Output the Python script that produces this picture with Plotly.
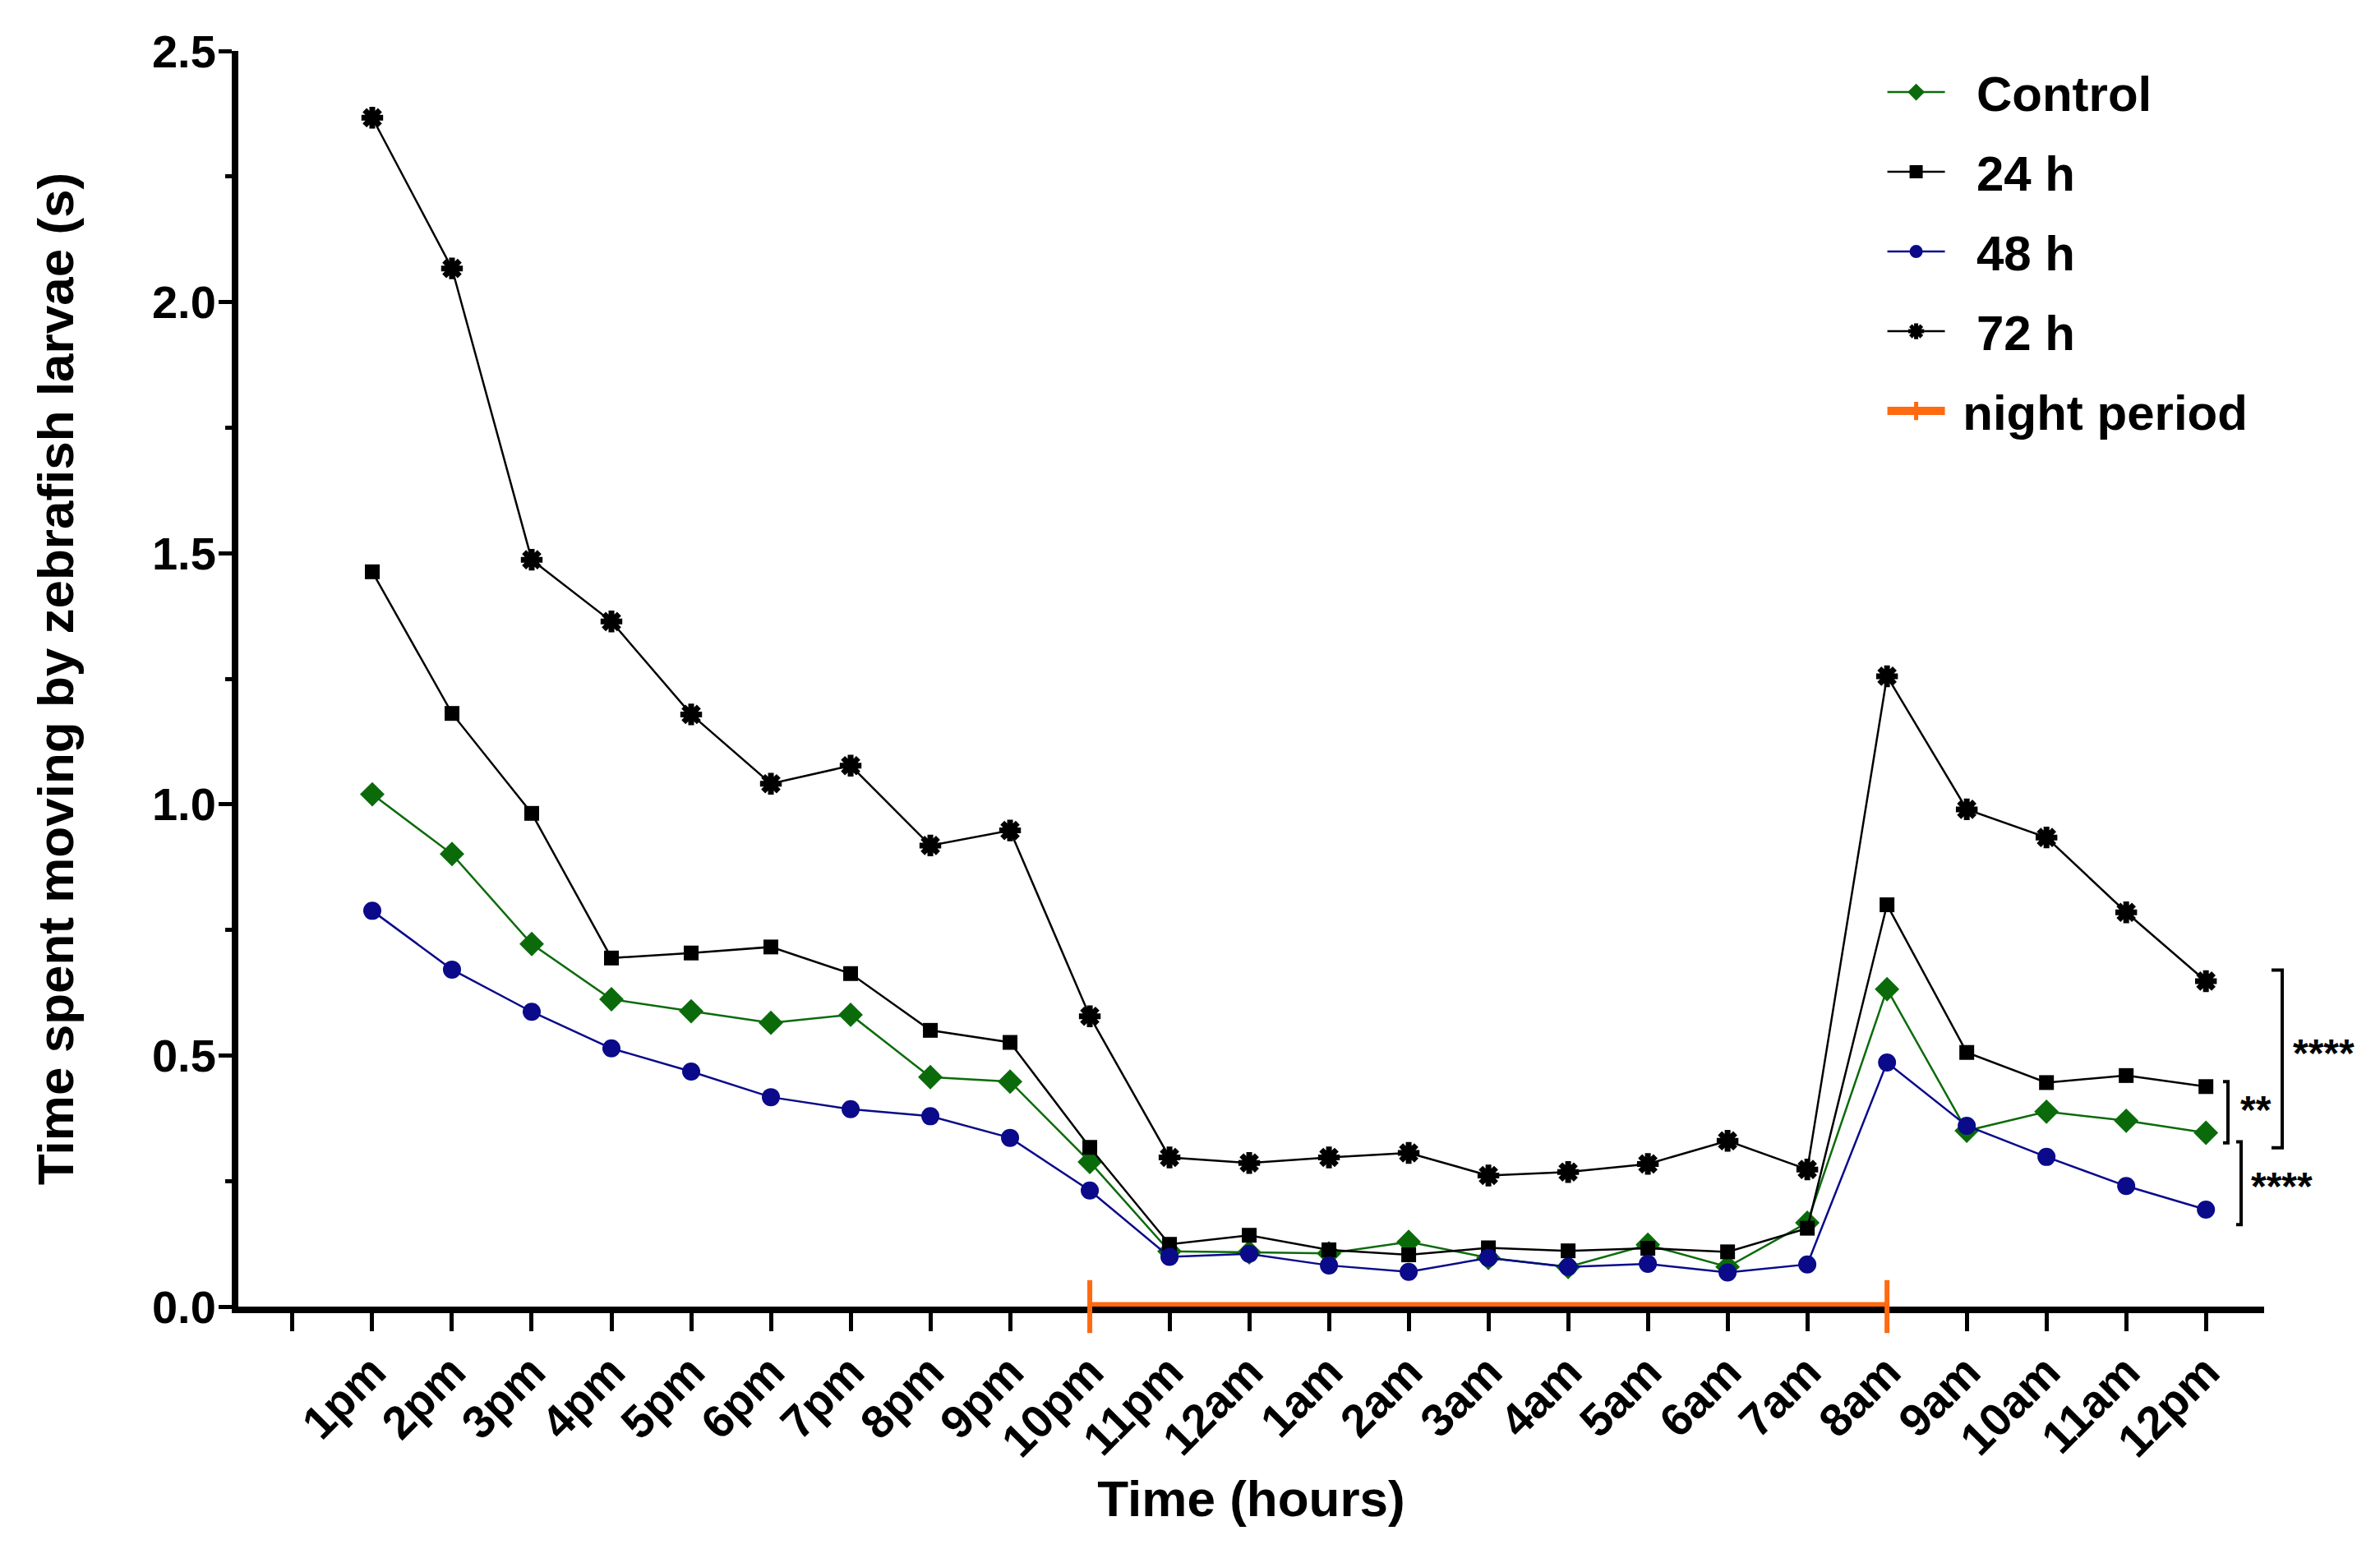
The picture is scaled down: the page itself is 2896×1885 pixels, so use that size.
import plotly.graph_objects as go

hour_labels = ["1pm", "2pm", "3pm", "4pm", "5pm", "6pm", "7pm", "8pm", "9pm", "10pm",
               "11pm", "12am", "1am", "2am", "3am", "4am", "5am", "6am", "7am", "8am",
               "9am", "10am", "11am", "12pm"]
hour_pos = list(range(1, 25))

control = [1.020, 0.901, 0.722, 0.612, 0.588, 0.565, 0.581, 0.457, 0.448, 0.288,
           0.110, 0.108, 0.106, 0.129, 0.097, 0.079, 0.123, 0.079, 0.167, 0.632,
           0.350, 0.388, 0.370, 0.346]
h24 = [1.463, 1.181, 0.982, 0.694, 0.704, 0.716, 0.663, 0.550, 0.526, 0.317,
       0.124, 0.142, 0.113, 0.103, 0.117, 0.111, 0.116, 0.109, 0.156, 0.800,
       0.506, 0.446, 0.460, 0.438]
h48 = [0.788, 0.671, 0.587, 0.514, 0.468, 0.417, 0.393, 0.379, 0.336, 0.231,
       0.099, 0.105, 0.082, 0.069, 0.097, 0.079, 0.085, 0.068, 0.084, 0.486,
       0.360, 0.298, 0.240, 0.193]
h72 = [2.367, 2.067, 1.487, 1.364, 1.179, 1.041, 1.077, 0.918, 0.948, 0.578,
       0.297, 0.286, 0.297, 0.306, 0.261, 0.268, 0.284, 0.330, 0.273, 1.255,
       0.990, 0.934, 0.785, 0.648]

night_start, night_end = 10, 20  # 10pm -> 8am

# significance brackets: (y_top, y_bottom, label, label_y)
sig_brackets = [
    (0.670, 0.316, "****", 0.505),
    (0.448, 0.326, "**", 0.392),
    (0.328, 0.163, "****", 0.240),
]

FONT = "Arial, Liberation Sans, sans-serif"
GREEN = "#0B6B0B"
BLUE = "#0A0A8A"
ORANGE = "#FF6A10"
NB = "\u00a0"

fig = go.Figure()

series = [
    ("Control", control, GREEN, "diamond", 23, 0),
    ("24 h", h24, "black", "square", 18, 0),
    ("48 h", h48, BLUE, "circle", 22, 0),
    ("72 h", h72, "black", "asterisk-open", 22, 7),
]
for name, vals, col, sym, size, lw in series:
    fig.add_trace(go.Scatter(
        x=hour_pos, y=vals, name=NB * 2 + name, mode="lines+markers",
        line=dict(color=col, width=2.5),
        marker=dict(symbol=sym, size=size, color=col,
                    line=dict(color=col, width=lw)),
        legendgroup=name,
    ))

fig.add_trace(go.Scatter(
    x=[night_start, night_end], y=[0, 0], name=NB + "night period",
    mode="lines+markers", cliponaxis=False,
    line=dict(color=ORANGE, width=11),
    marker=dict(symbol="line-ns-open", size=46, color=ORANGE,
                line=dict(color=ORANGE, width=6)),
    legendgroup="night",
))

# screen-pixel geometry of the plot area (body margin of 8 px compensated)
BODY = 8
plot_l, plot_r, plot_t, plot_b = 290, 2755, 62, 1590
W, H = 2896, 1885

def px2paper(px):
    return (px - plot_l) / (plot_r - plot_l)

bracket_x = [2777, 2711, 2727]
foot_len = [13, 6, 6]
label_x = [2828, 2745, 2776]
for (yt, yb, lab, ly), bx, fl, lx in zip(sig_brackets, bracket_x, foot_len, label_x):
    xb = px2paper(bx)
    xf = px2paper(bx - fl)
    fig.add_shape(type="path", xref="paper", yref="y",
                  path=f"M {xf} {yt} L {xb} {yt} L {xb} {yb} L {xf} {yb}",
                  line=dict(color="black", width=4))
    fig.add_annotation(x=px2paper(lx), y=ly, xref="paper", yref="y",
                       xanchor="center", yanchor="middle",
                       text=lab, showarrow=False,
                       font=dict(family=FONT, size=48, color="black", weight="bold"))

fig.update_layout(
    width=W, height=H,
    margin=dict(l=plot_l - BODY, r=W - (plot_r - BODY), t=plot_t - BODY,
                b=H - (plot_b - BODY)),
    plot_bgcolor="white", paper_bgcolor="white",
    font=dict(family=FONT, size=54, color="black"),
    showlegend=True,
    legend=dict(x=0.812, y=0.997, xanchor="left", yanchor="top",
                font=dict(family=FONT, size=60, color="black", weight="bold"),
                itemwidth=70, tracegroupgap=16, traceorder="grouped",
                bgcolor="rgba(0,0,0,0)"),
)

fig.update_xaxes(
    range=[-0.68, 24.73],
    tickmode="array", tickvals=[0] + hour_pos, ticktext=[""] + hour_labels,
    tickangle=-45, ticklabelstandoff=-6,
    tickfont=dict(family=FONT, size=56, color="black", weight="bold"),
    ticks="outside", ticklen=22, tickwidth=5, tickcolor="black",
    showline=True, linecolor="black", linewidth=8,
    showgrid=False, zeroline=False, layer="below traces",
    title=dict(text="Time (hours)", standoff=21,
               font=dict(family=FONT, size=62, color="black", weight="bold")),
)
fig.update_yaxes(
    range=[0, 2.5], tickmode="array", tickvals=[0, 0.5, 1.0, 1.5, 2.0, 2.5],
    ticktext=["0.0", "0.5", "1.0", "1.5", "2.0", "2.5"],
    ticklabelstandoff=-8,
    tickfont=dict(family=FONT, size=56, color="black", weight="bold"),
    ticks="outside", ticklen=16, tickwidth=5, tickcolor="black",
    minor=dict(tickvals=[0.25, 0.75, 1.25, 1.75, 2.25], ticks="outside",
               ticklen=8, tickwidth=5, tickcolor="black"),
    showline=True, linecolor="black", linewidth=8,
    showgrid=False, zeroline=False,
    title=dict(text="Time spent moving by zebrafish larvae (s)", standoff=78,
               font=dict(family=FONT, size=62, color="black", weight="bold")),
)

fig.write_html("out.html")
